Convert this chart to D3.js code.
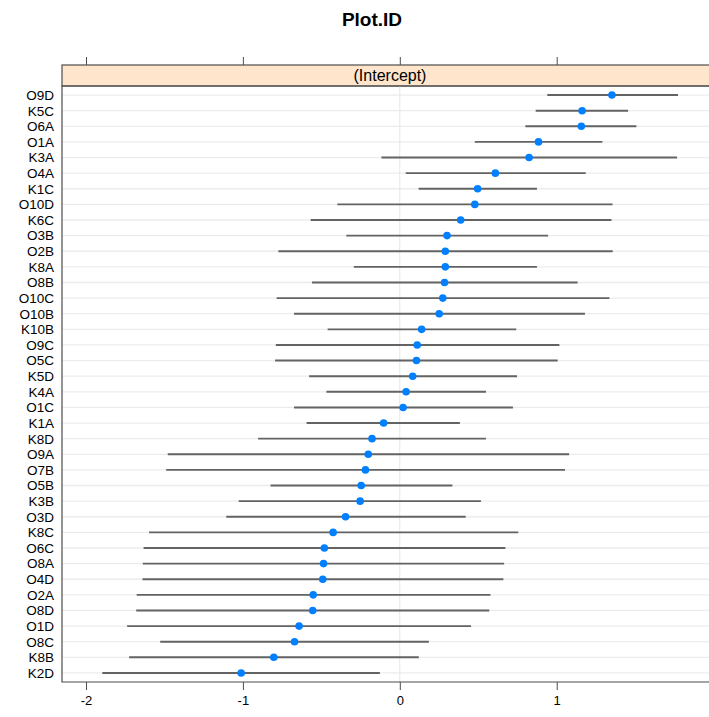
<!DOCTYPE html>
<html>
<head>
<meta charset="utf-8">
<script src="https://cdn.jsdelivr.net/npm/d3@7"></script>
<style>
  html, body { margin: 0; padding: 0; background: #ffffff; }
  svg { display: block; font-family: "Liberation Sans", Arial, Helvetica, sans-serif; }
</style>
</head>
<body>
<svg id="chart" width="709" height="717"></svg>
<script>
// Random-effect intercepts per plot with interval bounds (top to bottom)
const plots = ["O9D","K5C","O6A","O1A","K3A","O4A","K1C","O10D","K6C","O3B","O2B","K8A","O8B","O10C","O10B",
  "K10B","O9C","O5C","K5D","K4A","O1C","K1A","K8D","O9A","O7B","O5B","K3B","O3D","K8C","O6C","O8A","O4D",
  "O2A","O8D","O1D","O8C","K8B","K2D"];
const estimate = [1.352,1.162,1.157,0.884,0.824,0.609,0.496,0.478,0.388,0.301,0.290,0.290,0.285,0.274,0.251,
  0.139,0.111,0.106,0.082,0.040,0.021,-0.103,-0.177,-0.201,-0.219,-0.246,-0.253,-0.346,-0.425,-0.481,-0.486,-0.491,
  -0.552,-0.555,-0.642,-0.671,-0.803,-1.011];
const lower = [0.940,0.866,0.800,0.478,-0.117,0.038,0.120,-0.398,-0.568,-0.341,-0.774,-0.293,-0.560,-0.785,-0.674,
  -0.460,-0.790,-0.795,-0.578,-0.468,-0.674,-0.594,-0.903,-1.479,-1.489,-0.824,-1.027,-1.106,-1.598,-1.633,-1.638,-1.640,
  -1.677,-1.680,-1.738,-1.527,-1.725,-1.896];
const upper = [1.773,1.455,1.508,1.291,1.767,1.185,0.874,1.356,1.349,0.945,1.357,0.874,1.133,1.336,1.180,
  0.742,1.017,1.006,0.747,0.549,0.721,0.383,0.549,1.079,1.053,0.335,0.517,0.420,0.755,0.673,0.665,0.660,
  0.578,0.570,0.454,0.185,0.121,-0.127];
const xTicks = [-2, -1, 0, 1];
const panelTitle = "(Intercept)";
const mainTitle = "Plot.ID";

const svg = d3.select("#chart");
const panel = { left: 62, right: 718, stripTop: 65, top: 86, bottom: 682 };

const x = d3.scaleLinear().domain([-2.153, 2.028]).range([panel.left, panel.right]);
const y = d3.scalePoint().domain(plots).range([panel.top, panel.bottom]).padding(0.58);

const rows = plots.map((p, i) => ({ id: p, est: estimate[i], lo: lower[i], hi: upper[i] }));

// Title
svg.append("text")
  .attr("x", 372).attr("y", 26)
  .attr("text-anchor", "middle")
  .attr("font-size", 19).attr("font-weight", "bold")
  .attr("fill", "#000")
  .text(mainTitle);

// Strip
svg.append("rect")
  .attr("x", panel.left).attr("y", panel.stripTop)
  .attr("width", panel.right - panel.left).attr("height", panel.top - panel.stripTop)
  .attr("fill", "#ffe5cc").attr("stroke", "#4d4d4d").attr("stroke-width", 1.2);
svg.append("text")
  .attr("x", (panel.left + panel.right) / 2).attr("y", panel.top - 5)
  .attr("text-anchor", "middle").attr("font-size", 16).attr("fill", "#000")
  .text(panelTitle);

// Horizontal row guides
svg.append("g").selectAll("line").data(rows).join("line")
  .attr("x1", panel.left).attr("x2", panel.right)
  .attr("y1", d => y(d.id)).attr("y2", d => y(d.id))
  .attr("stroke", "#ececec").attr("stroke-width", 1.3);

// Zero reference line
svg.append("line")
  .attr("x1", x(0)).attr("x2", x(0))
  .attr("y1", panel.top).attr("y2", panel.bottom)
  .attr("stroke", "#e6e6e6").attr("stroke-width", 1);

// Intervals
svg.append("g").selectAll("line").data(rows).join("line")
  .attr("x1", d => x(d.lo)).attr("x2", d => x(d.hi))
  .attr("y1", d => y(d.id)).attr("y2", d => y(d.id))
  .attr("stroke", "#636363").attr("stroke-width", 1.9);

// Point estimates
svg.append("g").selectAll("circle").data(rows).join("circle")
  .attr("cx", d => x(d.est)).attr("cy", d => y(d.id))
  .attr("r", 3.8).attr("fill", "#0080ff");

// Panel border
svg.append("path")
  .attr("d", `M${panel.right},${panel.top}H${panel.left}V${panel.bottom}H${panel.right}`)
  .attr("fill", "none").attr("stroke", "#4d4d4d").attr("stroke-width", 1.2);

// Row labels
svg.append("g").selectAll("text").data(rows).join("text")
  .attr("x", 54).attr("y", d => y(d.id)).attr("dy", "0.36em")
  .attr("text-anchor", "end").attr("font-size", 13.5).attr("fill", "#000")
  .text(d => d.id);

// Bottom axis
const bottomAxis = d3.axisBottom(x).tickValues(xTicks).tickSize(8).tickPadding(6)
  .tickFormat(d => d < 0 ? "-" + Math.abs(d) : String(d));
const gb = svg.append("g").attr("transform", `translate(0,${panel.bottom})`).call(bottomAxis);
gb.select(".domain").remove();
gb.selectAll(".tick line").attr("stroke", "#4d4d4d");
gb.selectAll(".tick text").attr("font-size", 13).attr("fill", "#000")
  .attr("font-family", "'Liberation Sans', Arial, sans-serif");

// Top ticks (no labels)
const topAxis = d3.axisTop(x).tickValues(xTicks).tickSize(8).tickFormat("");
const gt = svg.append("g").attr("transform", `translate(0,${panel.stripTop})`).call(topAxis);
gt.select(".domain").remove();
gt.selectAll(".tick line").attr("stroke", "#4d4d4d");
</script>
</body>
</html>
